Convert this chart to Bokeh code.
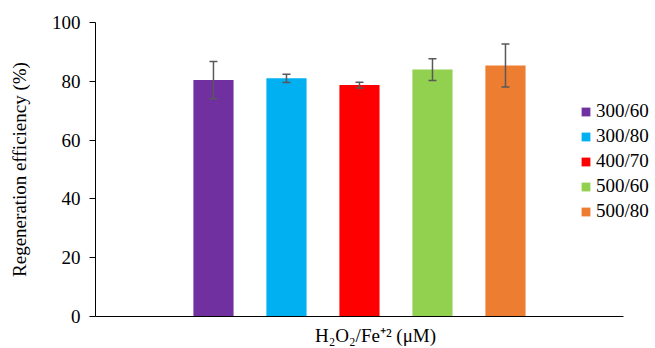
from bokeh.plotting import figure
from bokeh.models import ColumnDataSource, Range1d, FixedTicker, Whisker, TeeHead
from bokeh.embed import file_html
from bokeh.resources import INLINE

names = ["300/60", "300/80", "400/70", "500/60", "500/80"]
values = [80.4, 81.0, 78.7, 84.0, 85.4]
errors = [6.3, 1.4, 1.0, 3.7, 7.3]
colors = ["#7030A0", "#00B0F0", "#FF0000", "#92D050", "#ED7D31"]
y_ticks = [0, 20, 40, 60, 80, 100]

n = len(names)
xs = [i - (n - 1) / 2 for i in range(n)]
src = ColumnDataSource(dict(
    x=xs, top=values, name=names, color=colors,
    upper=[v + e for v, e in zip(values, errors)],
    lower=[v - e for v, e in zip(values, errors)],
))

FONT = "Liberation Serif"

p = figure(width=655, height=348, output_backend="svg", toolbar_location=None,
           x_range=Range1d(-3.616, 4.055), y_range=Range1d(0, 100),
           min_border_left=95, min_border_right=0, min_border_top=22, min_border_bottom=30)
p.outline_line_color = None
p.grid.visible = False
p.background_fill_color = "white"

r = p.vbar(x="x", top="top", width=0.55, bottom=0, color="color", line_color=None,
           source=src, legend_field="name")

w = Whisker(source=src, base="x", upper="upper", lower="lower",
            line_color="#595959", line_width=1.5, level="overlay",
            upper_head=TeeHead(size=8, line_color="#595959", line_width=1.5),
            lower_head=TeeHead(size=8, line_color="#595959", line_width=1.5))
p.add_layout(w)

# y axis
p.yaxis.ticker = FixedTicker(ticks=y_ticks)
p.yaxis.minor_tick_line_color = None
p.yaxis.major_tick_out = 6
p.yaxis.major_tick_in = 0
p.yaxis.major_label_text_font = FONT
p.yaxis.major_label_text_font_size = "19px"
p.yaxis.major_label_text_color = "black"
p.yaxis.major_label_standoff = 9
p.yaxis.axis_label = "Regeneration efficiency (%)"
p.yaxis.axis_label_text_font = FONT
p.yaxis.axis_label_text_font_size = "19px"
p.yaxis.axis_label_text_font_style = "normal"
p.yaxis.axis_label_text_color = "black"
p.yaxis.axis_label_standoff = 19
p.yaxis.axis_line_color = "black"
p.yaxis.major_tick_line_color = "black"

# x axis
p.xaxis.ticker = FixedTicker(ticks=[])
p.xaxis.bounds = (-3.616, 3.61)
p.xaxis.minor_tick_line_color = None
p.xaxis.major_tick_line_color = None
p.xaxis.axis_line_color = "black"
p.xaxis.axis_label = "H\u2082O\u2082/Fe\u207a\u00b2 (\u03bcM)"
p.xaxis.axis_label_text_font = FONT
p.xaxis.axis_label_text_font_size = "19px"
p.xaxis.axis_label_text_font_style = "normal"
p.xaxis.axis_label_text_color = "black"
p.xaxis.axis_label_standoff = 8

leg = p.legend[0]
leg.location = (485, 94)
leg.border_line_color = None
leg.background_fill_alpha = 0
leg.padding = 0
leg.margin = 0
leg.spacing = 3
leg.glyph_width = 11
leg.glyph_height = 11
leg.label_height = 20
leg.label_standoff = 5
leg.label_text_font = FONT
leg.label_text_font_size = "19px"
leg.label_text_color = "black"

open("out.html", "w").write(file_html(p, INLINE))
